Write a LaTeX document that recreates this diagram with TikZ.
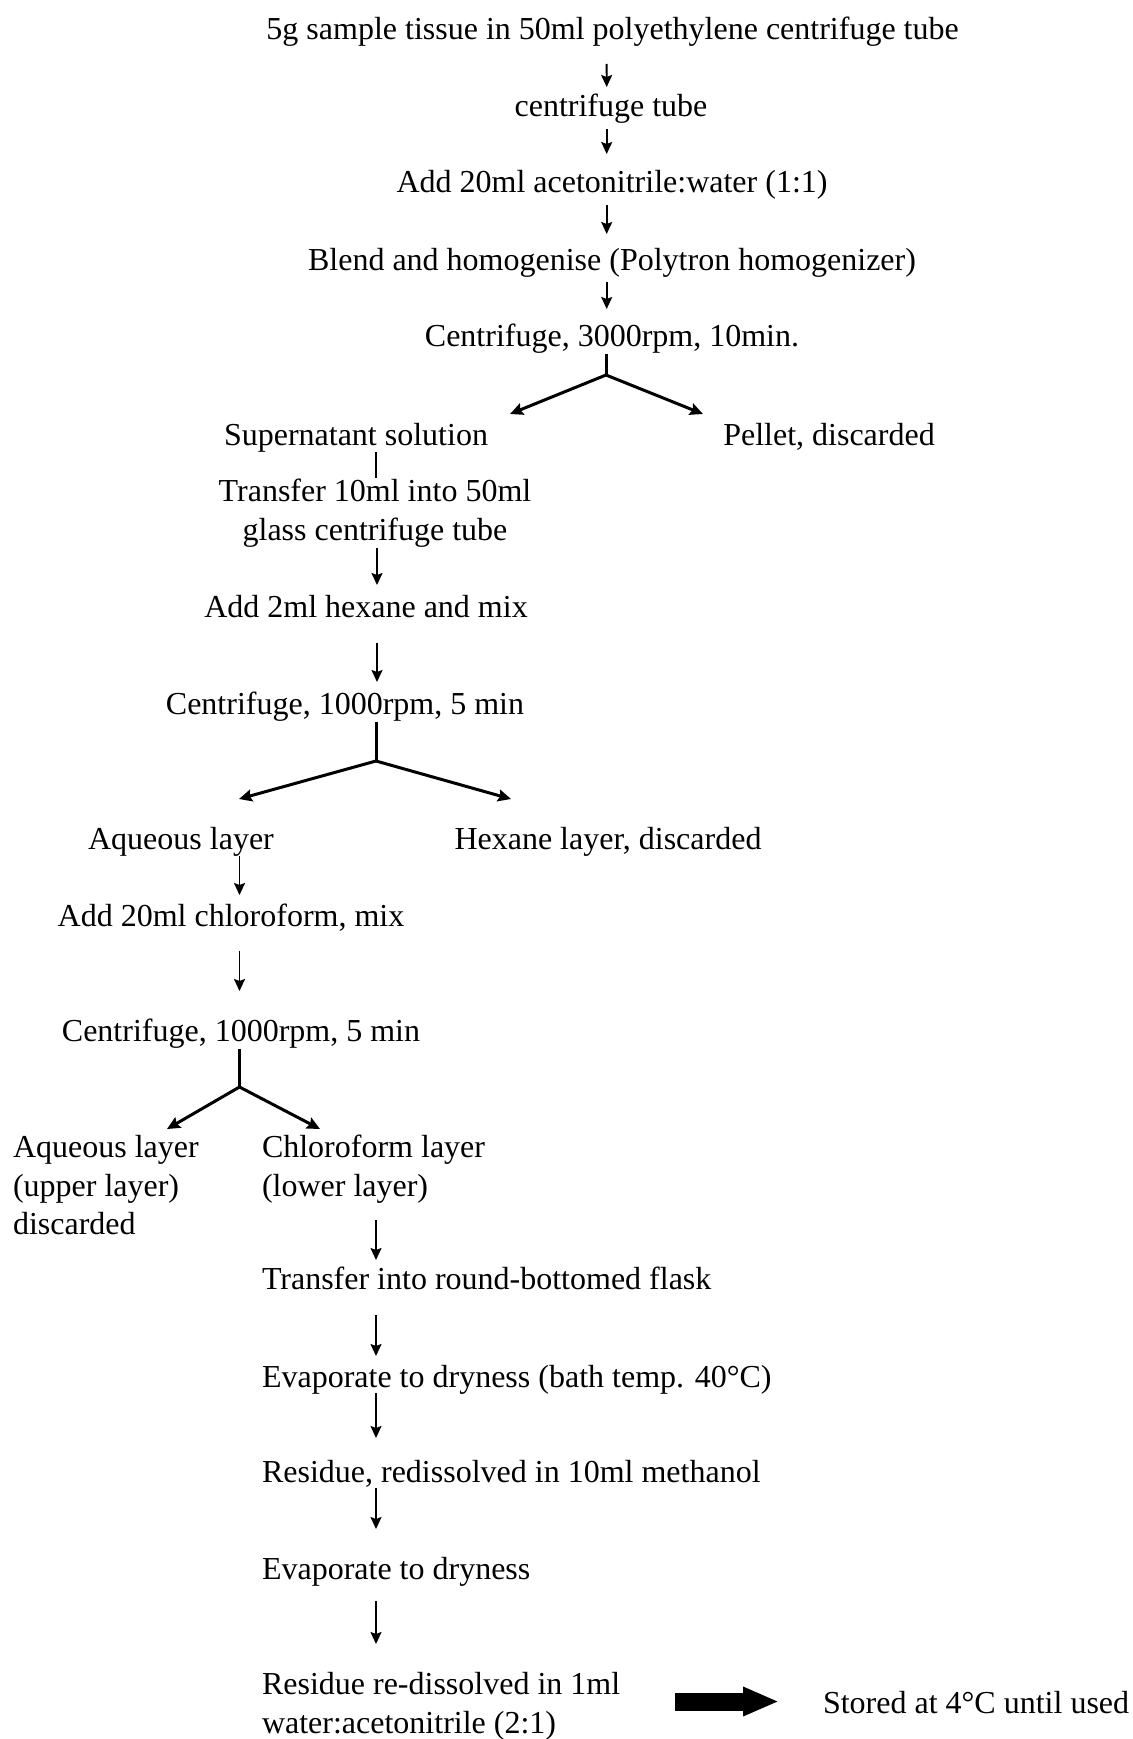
\documentclass[tikz,border=0pt]{standalone}
\usepackage{fontspec}
\setmainfont{Liberation Serif}
\usetikzlibrary{arrows.meta}
\begin{document}
\begin{tikzpicture}[x=1pt,y=-1pt,
  txt/.style={inner sep=0pt, outer sep=0pt, text height=26pt, text depth=3pt, font=\fontsize{32}{38}\selectfont},
  ltxt/.style={txt, anchor=west},
  arr/.style={line width=1.8pt, -{Stealth[length=12pt,width=11pt,inset=2pt]}},
  plain/.style={line width=1.8pt},
  br/.style={line width=3pt, line cap=butt},
  brarr/.style={line width=3pt, -{Stealth[length=13pt,width=12pt,inset=2pt]}},
  bigarr/.style={line width=18pt, -{Triangle[length=36pt,width=27pt]}},
]
\useasboundingbox (0,0) rectangle (1132,1739);

% top column
\node[txt] (t1) at (612.6,27.7) {5g sample tissue in 50ml polyethylene centrifuge tube};
\node[txt] (t2) at (611,105) {centrifuge tube};
\node[txt] (t3) at (612,181) {Add 20ml acetonitrile:water (1:1)};
\node[txt] (t4) at (612,259) {Blend and homogenise (Polytron homogenizer)};
\node[txt] (t5) at (612,335) {Centrifuge, 3000rpm, 10min.};

\node[txt] (sup) at (356,433.5) {Supernatant solution};
\node[txt] (pel) at (829,433.5) {Pellet, discarded};
\node[txt] (tr1a) at (375,490) {Transfer 10ml into 50ml};
\node[txt] (tr1b) at (375,529) {glass centrifuge tube};
\node[txt] (hex) at (366,606) {Add 2ml hexane and mix};
\node[txt] (c2) at (345,703) {Centrifuge, 1000rpm, 5 min};

\node[txt] (aq1) at (181,838) {Aqueous layer};
\node[txt] (hexl) at (608,838) {Hexane layer, discarded};
\node[txt] (chl) at (231,915) {Add 20ml chloroform, mix};
\node[txt] (c3) at (241,1030) {Centrifuge, 1000rpm, 5 min};

\node[ltxt] (aq2a) at (13,1146) {Aqueous layer};
\node[ltxt] (aq2b) at (13,1185) {(upper layer)};
\node[ltxt] (aq2c) at (13,1223) {discarded};
\node[ltxt] (cl1a) at (262,1146) {Chloroform layer};
\node[ltxt] (cl1b) at (262,1185) {(lower layer)};

\node[ltxt] (trf) at (262,1278) {Transfer into round-bottomed flask};
\node[ltxt] (ev1) at (262,1376) {Evaporate to dryness (bath temp. 40°C)};
\node[ltxt] (res1) at (262,1471) {Residue, redissolved in 10ml methanol};
\node[ltxt] (ev2) at (262,1568) {Evaporate to dryness};
\node[ltxt] (res2a) at (262,1683) {Residue re-dissolved in 1ml};
\node[ltxt] (res2b) at (262,1722) {water:acetonitrile (2:1)};
\node[ltxt] (st) at (823,1702) {Stored at 4°C until used};

% branch points
\coordinate (v1) at (606,375);
\coordinate (b1l) at (510,414);
\coordinate (b1r) at (703,414);
\coordinate (v2) at (376,761);
\coordinate (b2l) at (239,799);
\coordinate (b2r) at (511,799);
\coordinate (v3) at (239.5,1087);
\coordinate (b3l) at (167,1129);
\coordinate (b3r) at (320,1129);

% top arrows
\draw[arr] ([xshift=-6pt,yshift=-21.8pt]t1.south) -- ([xshift=-4.3pt,yshift=3.5pt]t2.north);
\draw[arr] ([xshift=-4.3pt,yshift=-9.5pt]t2.south) -- ([xshift=-5.3pt,yshift=12.5pt]t3.north);
\draw[arr] ([xshift=-5.3pt,yshift=-9.5pt]t3.south) -- ([xshift=-5.3pt,yshift=10.5pt]t4.north);
\draw[arr] ([xshift=-5.3pt,yshift=-8.5pt]t4.south) -- ([xshift=-5.3pt,yshift=11.5pt]t5.north);

% branch 1
\draw[br] ([xshift=-6pt,yshift=-4pt]t5.south) -- (v1);
\draw[brarr] (v1) -- (b1l);
\draw[brarr] (v1) -- (b1r);

% left column 1
\draw[plain] ([xshift=20pt,yshift=-4pt]sup.south) -- ([xshift=1pt,yshift=-2.5pt]tr1a.north);
\draw[arr] ([xshift=2pt,yshift=-4pt]tr1b.south) -- ([xshift=11pt,yshift=6.5pt]hex.north);
\draw[arr] ([xshift=11pt,yshift=-22.5pt]hex.south) -- ([xshift=32pt,yshift=6.5pt]c2.north);

% branch 2
\draw[br] ([xshift=31pt,yshift=-4.5pt]c2.south) -- (v2);
\draw[brarr] (v2) -- (b2l);
\draw[brarr] (v2) -- (b2r);

% left column 2
\draw[arr] ([xshift=58.5pt,yshift=-3.5pt]aq1.south) -- ([xshift=8.5pt,yshift=5.5pt]chl.north);
\draw[arr] ([xshift=8.5pt,yshift=-21.5pt]chl.south) -- ([xshift=-1.5pt,yshift=24.5pt]c3.north);

% branch 3
\draw[br] ([xshift=-1.5pt,yshift=-4.5pt]c3.south) -- (v3);
\draw[brarr] (v3) -- (b3l);
\draw[brarr] (v3) -- (b3r);

% lower column
\draw[arr] ([xshift=114pt,yshift=-20.5pt]cl1b.south west) -- ([xshift=114pt,yshift=3.5pt]trf.north west);
\draw[arr] ([xshift=114pt,yshift=-22.5pt]trf.south west) -- ([xshift=114pt,yshift=5.5pt]ev1.north west);
\draw[arr] ([xshift=114pt,yshift=-2.5pt]ev1.south west) -- ([xshift=114pt,yshift=18.5pt]res1.north west);
\draw[arr] ([xshift=114pt,yshift=-2.5pt]res1.south west) -- ([xshift=114pt,yshift=24.5pt]ev2.north west);
\draw[arr] ([xshift=114pt,yshift=-18.5pt]ev2.south west) -- ([xshift=114pt,yshift=24.5pt]res2a.north west);

% thick arrow
\draw[bigarr] ([xshift=-148pt,yshift=0.5pt]st.west) -- ([xshift=-44pt,yshift=0.5pt]st.west);
\end{tikzpicture}
\end{document}
